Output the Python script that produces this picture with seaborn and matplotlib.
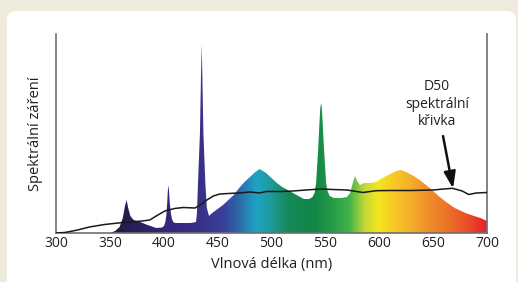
import matplotlib
matplotlib.use('Agg')
import numpy as np
import pandas as pd
import seaborn as sns
from matplotlib import pyplot as plt
from matplotlib.colors import LinearSegmentedColormap, Normalize
from matplotlib.patches import FancyBboxPatch, PathPatch

# spectrum of the lamp (relative irradiance)
spec_nm = [300, 350, 355, 359, 362, 364, 365.5, 367, 369, 372, 378, 385, 393, 398.5,
           400.2, 401.5, 402.4, 403.2, 403.8, 404.3, 404.9, 405.6, 406.6, 407.6, 408.8, 410.5,
           415, 425, 430, 430.8, 431.8, 433.6, 434.6, 435.2, 435.8, 436.8, 438.6, 440,
           442, 445, 450, 455, 460, 465, 470, 475, 480,
           485, 489, 495, 500, 505, 510, 515, 520, 525, 530, 535, 538, 540, 541.4,
           543.4, 544.5, 545.3, 546, 546.7, 547.5, 548.7, 550.7, 552, 554, 558,
           565, 570, 573, 575.5, 577.5, 579.5, 582, 586, 592, 597, 603, 610, 616,
           620, 625, 632, 640, 648, 655, 662, 670, 680, 688, 694, 700]
spec_val = [0, 0, 2, 6, 15, 27, 33, 25, 17, 13, 11, 8, 5, 5.5,
            7, 11, 18, 30, 42, 48, 42, 30, 20, 14, 11, 10,
            10, 10, 11, 20, 50, 100, 158, 188, 158, 100, 50, 25,
            17, 20, 24, 28, 33, 38, 45, 51, 56,
            61, 64, 60, 55, 50, 46, 43, 40, 37, 34, 34, 36, 40, 50,
            85, 110, 125, 130, 125, 110, 85, 50, 42, 37, 35,
            35, 36, 40, 50, 57, 52, 48, 50, 50, 51, 55, 59, 62,
            63, 61, 57, 51, 44, 37, 31, 25, 20, 17, 15, 12]

# D50 reference curve
d50_nm = [300, 308, 313, 320, 331, 345, 362, 380, 387, 393, 401, 410, 418, 429,
          434, 440, 446, 452, 460, 470, 480, 489, 495, 510, 520, 532, 545, 557,
          570, 576, 585, 597, 610, 630, 650, 660, 668, 677, 683, 690, 700]
d50_val = [0, 0.5, 1.5, 3, 6, 8.5, 10.5, 12, 13, 17, 22, 24.5, 25.5, 25,
           28, 33, 37, 39, 39.5, 40, 41, 40, 41.5, 41.5, 42, 43, 44, 43.5,
           43, 42, 40.5, 42.3, 42.5, 42.5, 43, 44, 44.7, 42, 38.5, 40, 40.5]

# colour of the spectrum at each wavelength
grad_nm = [300, 350, 370, 400, 430, 455, 470, 486, 500, 515, 540, 560, 573,
           587, 600, 615, 628, 645, 660, 685, 700]
grad_col = ['#1a1830', '#1c1a3c', '#271f55', '#35277a', '#3a2e86', '#38409a',
            '#2c6aa8', '#1ea3c3', '#1e9a9a', '#16895a', '#118645', '#2aa047',
            '#42b34a', '#c3d936', '#f5e61f', '#f6c726', '#f4b12b', '#f09029',
            '#ee7a28', '#ea4a27', '#e8202a']

xticks = [300, 350, 400, 450, 500, 550, 600, 650, 700]

sns.set_theme(style="white")
plt.rcParams['font.family'] = ['Open Sans', 'DejaVu Sans']

fig = plt.figure(figsize=(5.18, 2.82), dpi=100, facecolor='#eeebdd')
# white card behind the chart
fig.patches.append(FancyBboxPatch((7, -30), 509, 301, boxstyle="round,pad=0,rounding_size=9",
                                  transform=None, facecolor='white', edgecolor='none', zorder=-10))
ax = fig.add_axes([56 / 518, 49 / 282, 431 / 518, 199 / 282])
ax.set_facecolor('white')

ymax = 199
ax.set_xlim(300, 700)
ax.set_ylim(0, ymax)

# spectrum filled with a wavelength gradient
cmap = LinearSegmentedColormap.from_list(
    'spec', [((n - 300) / 400, c) for n, c in zip(grad_nm, grad_col)])
poly = ax.fill_between(spec_nm, spec_val, 0, color='none', lw=0)
grad = np.linspace(300, 700, 1200)[None, :]
im = ax.imshow(grad, extent=[300, 700, 0, ymax], aspect='auto', cmap=cmap,
               norm=Normalize(300, 700), origin='lower', zorder=1)
clip = PathPatch(poly.get_paths()[0], transform=ax.transData, facecolor='none', edgecolor='none')
ax.add_patch(clip)
im.set_clip_path(clip)

df = pd.DataFrame({'nm': d50_nm, 'val': d50_val})
sns.lineplot(data=df, x='nm', y='val', ax=ax, color='#1a1a1a', lw=1.1, zorder=3)

ax.annotate('D50\nspektrální\nkřivka', xy=(668.5, 44.5), xytext=(653.5, 129),
            ha='center', va='center', fontsize=10, color='#231f20', linespacing=1.2,
            arrowprops=dict(arrowstyle='-|>,head_length=1.0,head_width=0.35',
                            color='#111111', lw=1.8, shrinkA=3, shrinkB=0),
            zorder=4)

ax.set_xticks(xticks)
ax.set_xticklabels([str(t) for t in xticks], fontsize=10, color='#231f20')
ax.set_yticks([])
ax.tick_params(axis='x', length=0, pad=2.5)
ax.set_xlabel('Vlnová délka (nm)', fontsize=10.5, color='#231f20')
ax.set_ylabel('Spektrální záření', fontsize=10.5, color='#231f20')
ax.xaxis.set_label_coords(0.5, -0.12)
ax.yaxis.set_label_coords(-0.03, 0.5)

for side in ['left', 'right', 'bottom']:
    ax.spines[side].set_visible(True)
    ax.spines[side].set_color('#6d6e71')
    ax.spines[side].set_linewidth(1.2)
ax.spines['top'].set_visible(False)

plt.savefig('out.png', dpi=100, facecolor=fig.get_facecolor())
